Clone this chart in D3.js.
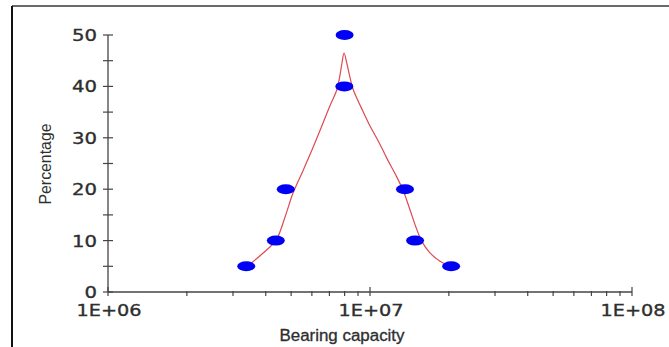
<!DOCTYPE html>
<html>
<head>
<meta charset="utf-8">
<script src="https://cdn.jsdelivr.net/npm/d3@7"></script>
<style>
  html, body { margin: 0; padding: 0; background: #fff; }
  svg { display: block; }
</style>
</head>
<body>
<div id="chart"></div>
<script>
/* Percentage vs bearing capacity, log x axis */

// observed points
const capacity = [3.37e6, 4.37e6, 4.77e6, 7.98e6, 8.0e6, 1.36e7, 1.486e7, 2.04e7];
const percent  = [5, 10, 20, 40, 50, 20, 10, 5];

// fitted curve
const fitX = [3.45e6, 3.87e6, 4.38e6, 4.74e6, 5.08e6, 5.55e6, 6.06e6, 6.56e6, 7.04e6, 7.48e6, 7.68e6, 7.82e6, 7.96e6,
              8.15e6, 8.39e6, 8.64e6, 8.98e6, 9.37e6, 1.0e7, 1.08e7, 1.16e7, 1.25e7, 1.337e7, 1.421e7, 1.498e7, 1.579e7, 1.694e7, 1.85e7, 2.02e7];
const fitY = [5.25, 7.4, 10.1, 14.6, 19.2, 23.6, 28.1, 32.4, 36.3, 39.4, 42.2, 44.6, 46.5,
              44.6, 41.7, 39.3, 37.3, 35.3, 32.3, 29.2, 26.0, 22.9, 19.8, 16.0, 12.6, 9.8, 7.6, 6.0, 5.1];

const yTicks = [0, 10, 20, 30, 40, 50];
const yMinor = [5, 15, 25, 35, 45];
const xTicks = [1e6, 1e7, 1e8];
const xLabels = ["1E+06", "1E+07", "1E+08"];

const width = 669, height = 347;

const svg = d3.select("#chart").append("svg")
    .attr("width", width)
    .attr("height", height);

// frame lines (top grey, left black)
svg.append("line").attr("x1", 12).attr("x2", width).attr("y1", 6).attr("y2", 6)
    .attr("stroke", "#6a6a6a").attr("stroke-width", 2);
svg.append("line").attr("x1", 12).attr("x2", 12).attr("y1", 6).attr("y2", height)
    .attr("stroke", "#111").attr("stroke-width", 2);

const x = d3.scaleLog().domain([1e6, 1e8]).range([108, 632]);
const y = d3.scaleLinear().domain([0, 50]).range([292, 35]);

const axisColor = "#444", textColor = "#2e2e2e";

// y axis
svg.append("line").attr("x1", x(1e6)).attr("x2", x(1e6)).attr("y1", y(50)).attr("y2", y(0))
    .attr("stroke", axisColor).attr("stroke-width", 1.3);
svg.selectAll(".ytick").data(yTicks.concat(yMinor)).join("line")
    .attr("x1", x(1e6) - 5).attr("x2", x(1e6) + 5)
    .attr("y1", d => y(d)).attr("y2", d => y(d))
    .attr("stroke", axisColor).attr("stroke-width", 1.2);
svg.selectAll(".ylab").data(yTicks).join("text")
    .attr("x", 97)
    .attr("y", d => y(d) + 6)
    .attr("text-anchor", "end")
    .attr("font-family", "DejaVu Sans, sans-serif")
    .attr("font-size", 16)
    .attr("textLength", d => String(d).length * 12.5)
    .attr("lengthAdjust", "spacingAndGlyphs")
    .attr("fill", textColor)
    .attr("stroke", textColor).attr("stroke-width", 0.35)
    .text(d => d);

// x axis
svg.append("line").attr("x1", x(1e6)).attr("x2", x(1e8)).attr("y1", y(0)).attr("y2", y(0))
    .attr("stroke", axisColor).attr("stroke-width", 1.3);
const minor = [];
for (const dec of [1e6, 1e7]) for (let k = 2; k <= 9; k++) minor.push(k * dec);
svg.selectAll(".xminor").data(minor).join("line")
    .attr("x1", d => x(d)).attr("x2", d => x(d))
    .attr("y1", y(0) - 1).attr("y2", y(0) + 4)
    .attr("stroke", axisColor).attr("stroke-width", 1.2);
svg.selectAll(".xmajor").data(xTicks).join("line")
    .attr("x1", d => x(d)).attr("x2", d => x(d))
    .attr("y1", y(0) - 5).attr("y2", y(0) + 4)
    .attr("stroke", axisColor).attr("stroke-width", 1.2);
svg.selectAll(".xlab").data(xTicks).join("text")
    .attr("x", d => x(d) + 1)
    .attr("y", 316)
    .attr("text-anchor", "middle")
    .attr("font-family", "DejaVu Sans, sans-serif")
    .attr("font-size", 16)
    .attr("textLength", 65)
    .attr("lengthAdjust", "spacingAndGlyphs")
    .attr("fill", textColor)
    .attr("stroke", textColor).attr("stroke-width", 0.35)
    .text((d, i) => xLabels[i]);

// axis titles
svg.append("text")
    .attr("x", 342).attr("y", 341)
    .attr("text-anchor", "middle")
    .attr("font-family", "Liberation Sans, Arial, sans-serif")
    .attr("font-size", 16)
    .attr("textLength", 125)
    .attr("lengthAdjust", "spacingAndGlyphs")
    .attr("fill", textColor)
    .attr("stroke", textColor).attr("stroke-width", 0.3)
    .text("Bearing capacity");
svg.append("text")
    .attr("transform", "translate(51,164) rotate(-90)")
    .attr("text-anchor", "middle")
    .attr("font-family", "Liberation Sans, Arial, sans-serif")
    .attr("font-size", 16.5)
    .attr("textLength", 81)
    .attr("lengthAdjust", "spacingAndGlyphs")
    .attr("fill", textColor)
    .text("Percentage");

// fitted curve
const fit = fitX.map((v, i) => [v, fitY[i]]);
svg.append("path")
    .datum(fit)
    .attr("fill", "none")
    .attr("stroke", "#dd4a52")
    .attr("stroke-width", 1.2)
    .attr("d", d3.line().x(d => x(d[0])).y(d => y(d[1])).curve(d3.curveCatmullRom.alpha(0.5)));

// points
svg.selectAll(".pt").data(capacity).join("ellipse")
    .attr("cx", d => x(d))
    .attr("cy", (d, i) => y(percent[i]))
    .attr("rx", 9)
    .attr("ry", 5)
    .attr("fill", "#0000f5");
</script>
</body>
</html>
